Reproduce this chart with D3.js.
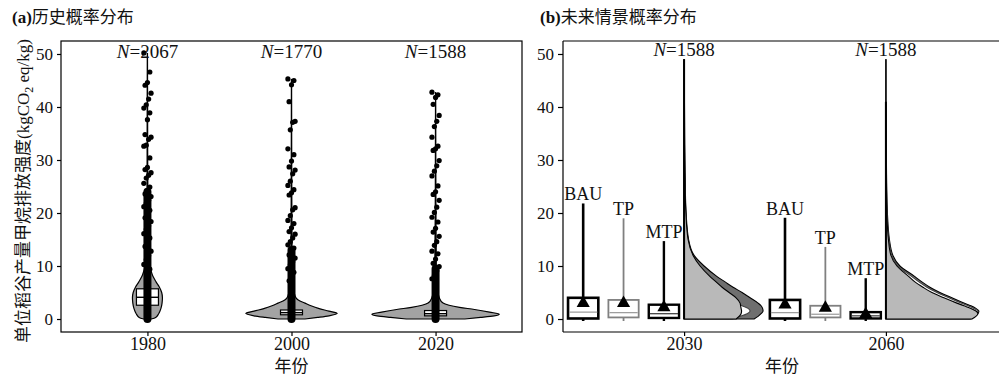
<!DOCTYPE html>
<html>
<head>
<meta charset="utf-8">
<script src="https://cdn.jsdelivr.net/npm/d3@7"></script>
<style>
  html, body { margin: 0; padding: 0; background: #fff; }
  svg { display: block; }
  text { fill: #111; }
</style>
</head>
<body>
<svg id="chart" width="999" height="378"></svg>
<script>
// ---- data ----
const yTicks = [0, 10, 20, 30, 40, 50];

// (a) historical
const histYears = ["1980", "2000", "2020"];
const histN = [2067, 1770, 1588];
const histQ1 = [2.6, 0.8, 0.6];
const histMed = [4.1, 1.2, 1.0];
const histQ3 = [5.7, 1.7, 1.6];
const histDenseTop = [24, 13, 9.5];

const vio1980Vals = [0, 0.3, 1, 2, 3, 4, 5, 6, 7, 8, 9, 10, 12, 15, 20, 25, 30, 40, 50.2];
const vio1980Dens = [0.05, 0.11, 0.15, 0.18, 0.195, 0.2, 0.19, 0.16, 0.115, 0.075, 0.05, 0.03, 0.02, 0.012, 0.008, 0.005, 0.003, 0.002, 0];
const vio2000Vals = [0, 0.3, 0.6, 1.07, 1.5, 2, 2.5, 3, 3.6, 4, 5, 7, 10, 20, 30, 45.3];
const vio2000Dens = [0.18, 0.35, 0.5, 0.61, 0.5, 0.36, 0.26, 0.18, 0.09, 0.06, 0.035, 0.018, 0.009, 0.004, 0.002, 0];
const vio2020Vals = [0, 0.3, 0.6, 0.9, 1.3, 1.8, 2.2, 2.6, 3, 4, 6, 10, 20, 30, 42.8];
const vio2020Dens = [0.39, 0.6, 0.78, 0.85, 0.72, 0.52, 0.32, 0.18, 0.1, 0.05, 0.02, 0.01, 0.004, 0.002, 0];

const pts1980 = [50.2, 46.6, 44.6, 44.1, 42.6, 41.5, 40.4, 39.8, 38.9, 37.6, 34.8, 34.3, 33.9, 32.8, 32.6, 30.4, 28.6, 28.2, 27.6, 27.1, 26.6, 25.6, 24.9, 24.2, 23.6, 23.1, 22.4, 21.8, 21.2, 20.5, 19.9, 19.1, 18.4, 17.6, 16.9, 16.1, 15.3, 14.4, 13.7, 12.8, 12.0, 11.2, 10.3, 9.4];
const pts2000 = [45.3, 45.0, 44.2, 41.0, 37.3, 37.1, 35.7, 32.1, 31.0, 29.8, 28.7, 28.1, 27.4, 26.0, 25.2, 24.4, 23.8, 23.4, 21.0, 20.6, 19.5, 18.6, 18.0, 17.2, 16.5, 16.0, 15.3, 14.6, 14.0, 13.4, 12.7, 12.1, 11.5, 10.8, 10.2, 9.5, 8.8, 8.0, 7.2];
const pts2020 = [42.8, 42.3, 41.8, 40.5, 38.4, 37.3, 36.3, 34.3, 32.6, 32.1, 31.8, 29.9, 28.9, 27.9, 27.0, 25.1, 24.0, 23.5, 22.4, 21.1, 20.1, 19.2, 18.3, 17.1, 16.4, 15.6, 14.6, 13.9, 12.8, 12.3, 11.3, 10.5, 9.9, 9.1, 8.2, 7.6];

// (b) scenarios
const futYears = ["2030", "2060"];
const futN = [1588, 1588];
const scenarios = ["BAU", "TP", "MTP"];
const futQ1 = [[0.1, 0.3, 0.2], [0.1, 0.3, 0.1]];
const futMed = [[1.3, 1.2, 1.0], [1.2, 0.9, 0.6]];
const futQ3 = [[4.0, 3.6, 2.7], [3.6, 2.5, 1.3]];
const futMin = [[0, 0, 0], [0, 0, 0]];
const futMax = [[21.8, 19.0, 14.7], [19.1, 13.6, 7.7]];
const futMean = [[3.0, 3.0, 2.2], [2.7, 2.1, 0.9]];

const halfVals = [0, 0.5, 1, 1.5, 2, 2.5, 3, 4, 5, 6, 7, 8, 10, 12, 15, 20, 25, 30, 40, 49];
const half2030 = {
  BAU: [0.70, 0.74, 0.77, 0.79, 0.785, 0.77, 0.74, 0.66, 0.58, 0.49, 0.41, 0.33, 0.20, 0.10, 0.045, 0.02, 0.012, 0.008, 0.004, 0],
  TP:  [0.48, 0.56, 0.63, 0.66, 0.64, 0.58, 0.53, 0.47, 0.41, 0.35, 0.29, 0.24, 0.15, 0.085, 0.038, 0.017, 0.009, 0.005, 0.002, 0],
  MTP: [0.52, 0.55, 0.57, 0.575, 0.57, 0.565, 0.56, 0.52, 0.45, 0.38, 0.32, 0.26, 0.16, 0.09, 0.04, 0.018, 0.01, 0.006, 0, 0]
};
const halfTop2030 = 49;
const half2060 = {
  BAU: [0.85, 0.89, 0.92, 0.93, 0.90, 0.85, 0.78, 0.66, 0.54, 0.44, 0.36, 0.29, 0.14, 0.07, 0.035, 0.015, 0.008, 0.005, 0, 0],
  TP:  [0.84, 0.88, 0.91, 0.92, 0.88, 0.82, 0.75, 0.63, 0.51, 0.41, 0.33, 0.26, 0.12, 0.06, 0.03, 0.012, 0.006, 0.003, 0, 0],
  MTP: [0.86, 0.90, 0.92, 0.90, 0.85, 0.78, 0.71, 0.58, 0.46, 0.37, 0.29, 0.23, 0.11, 0.05, 0.025, 0.01, 0.005, 0, 0, 0]
};
const halfTop2060 = 41;

// ---- styling ----
const serif = "'Liberation Serif', 'Noto Sans CJK SC', serif";
const cjk = "'Noto Sans CJK SC', sans-serif";
const scenStyle = {
  BAU: { stroke: "#000", width: 2.6, halfFill: "#6f6f6f" },
  TP:  { stroke: "#808080", width: 1.8, halfFill: "#ffffff" },
  MTP: { stroke: "#000", width: 2.4, halfFill: "#b9b9b9" }
};

const svg = d3.select("#chart");

// shared y
const plotTop = 41, plotBottom = 332;
const y = d3.scaleLinear().domain([-2.45, 52.45]).range([plotBottom, plotTop]);

// ============ panel (a) ============
const aL = 61, aR = 522;
const xa = d3.scalePoint().domain(histYears).range([aL, aR]).padding(0.6);
const wa = d3.scaleLinear().domain([0, 1]).range([0, 75]);

const gA = svg.append("g");

const vioData = [
  { vals: vio1980Vals, dens: vio1980Dens },
  { vals: vio2000Vals, dens: vio2000Dens },
  { vals: vio2020Vals, dens: vio2020Dens }
];
const ptsData = [pts1980, pts2000, pts2020];

histYears.forEach((yr, i) => {
  const cx = xa(yr);
  const rows = vioData[i].vals.map((v, k) => ({ v, d: vioData[i].dens[k] }));
  const area = d3.area()
    .y(d => y(d.v))
    .x0(d => cx - wa(d.d))
    .x1(d => cx + wa(d.d))
    .curve(d3.curveMonotoneY);
  gA.append("path").attr("d", area(rows))
    .attr("fill", "#a3a3a3").attr("stroke", "#000").attr("stroke-width", 1.2);

  // box
  const bw = 22;
  gA.append("rect")
    .attr("x", cx - bw / 2).attr("width", bw)
    .attr("y", y(histQ3[i])).attr("height", y(histQ1[i]) - y(histQ3[i]))
    .attr("fill", "#fff").attr("stroke", "#000").attr("stroke-width", 1.2);
  gA.append("line")
    .attr("x1", cx - bw / 2).attr("x2", cx + bw / 2)
    .attr("y1", y(histMed[i])).attr("y2", y(histMed[i]))
    .attr("stroke", "#000").attr("stroke-width", 1.4);

  // centre line of thin violin tail
  gA.append("line").attr("x1", cx).attr("x2", cx)
    .attr("y1", y(0)).attr("y2", y(d3.max(ptsData[i])))
    .attr("stroke", "#000").attr("stroke-width", 1.2);

  // dense column of points
  gA.append("line").attr("x1", cx).attr("x2", cx)
    .attr("y1", y(0)).attr("y2", y(histDenseTop[i]))
    .attr("stroke", "#000").attr("stroke-width", 8).attr("stroke-linecap", "round");

  gA.selectAll(null).data(ptsData[i]).enter().append("circle")
    .attr("cx", (d, k) => cx + ((k * 5) % 7 - 3) * 1.2)
    .attr("cy", d => y(d))
    .attr("r", 2.6)
    .attr("fill", "#000");

  const t = gA.append("text").attr("x", cx).attr("y", y(49.3))
    .attr("text-anchor", "middle").attr("font-family", serif).attr("font-size", 19);
  t.append("tspan").attr("font-style", "italic").text("N");
  t.append("tspan").text("=" + histN[i]);
});

// frame
gA.append("rect").attr("x", aL).attr("y", plotTop).attr("width", aR - aL).attr("height", plotBottom - plotTop)
  .attr("fill", "none").attr("stroke", "#000").attr("stroke-width", 1.2);

const axA = gA.append("g").attr("transform", `translate(${aL},0)`)
  .call(d3.axisLeft(y).tickValues(yTicks).tickSize(4).tickPadding(4));
const axAx = gA.append("g").attr("transform", `translate(0,${plotBottom})`)
  .call(d3.axisBottom(xa).tickSize(4).tickPadding(1));

// ============ panel (b) ============
const bL = 563, bR = 1007;
const xb = d3.scalePoint().domain(futYears).range([bL, bR]).padding(0.6);
const step = xb.step();
const offs = d3.scalePoint().domain(scenarios).range([-0.5, -0.1]);
const wb = d3.scaleLinear().domain([0, 1]).range([0, 100]);

const gB = svg.append("g");

const halfSets = [half2030, half2060];
const halfTops = [halfTop2030, halfTop2060];

futYears.forEach((yr, i) => {
  const cx = xb(yr);
  // half violins: BAU, TP, MTP stacked
  scenarios.forEach(s => {
    const rows = halfVals.map((v, k) => ({ v, d: halfSets[i][s][k] }));
    const area = d3.area()
      .y(d => y(d.v))
      .x0(cx)
      .x1(d => cx + wb(d.d))
      .curve(d3.curveMonotoneY);
    gB.append("path").attr("d", area(rows))
      .attr("fill", scenStyle[s].halfFill)
      .attr("stroke", s === "TP" ? "#444" : "#000")
      .attr("stroke-width", 1.1);
  });
  gB.append("line").attr("x1", cx).attr("x2", cx)
    .attr("y1", y(0)).attr("y2", y(halfTops[i]))
    .attr("stroke", "#000").attr("stroke-width", 2);

  // boxplots
  scenarios.forEach((s, j) => {
    const bx = cx + offs(s) * step;
    const bw = 0.15 * step;
    const st = scenStyle[s];
    gB.append("line").attr("x1", bx).attr("x2", bx)
      .attr("y1", y(futQ3[i][j])).attr("y2", y(futMax[i][j]))
      .attr("stroke", st.stroke).attr("stroke-width", st.width);
    gB.append("line").attr("x1", bx).attr("x2", bx)
      .attr("y1", y(futQ1[i][j])).attr("y2", y(futMin[i][j]) + 2)
      .attr("stroke", st.stroke).attr("stroke-width", st.width);
    gB.append("rect")
      .attr("x", bx - bw / 2).attr("width", bw)
      .attr("y", y(futQ3[i][j])).attr("height", y(futQ1[i][j]) - y(futQ3[i][j]))
      .attr("fill", "#fff").attr("stroke", st.stroke).attr("stroke-width", st.width);
    gB.append("line")
      .attr("x1", bx - bw / 2 + 1).attr("x2", bx + bw / 2 - 1)
      .attr("y1", y(futMed[i][j])).attr("y2", y(futMed[i][j]))
      .attr("stroke", s === "MTP" ? "#333" : "#999").attr("stroke-width", 1.2);
    gB.append("path")
      .attr("d", d3.symbol(d3.symbolTriangle, 75)())
      .attr("transform", `translate(${bx},${y(futMean[i][j])})`)
      .attr("fill", "#000");
    gB.append("text").attr("x", bx).attr("y", y(futMax[i][j]) - 3)
      .attr("text-anchor", "middle").attr("font-family", serif).attr("font-size", 18)
      .text(s);
  });

  const t = gB.append("text").attr("x", cx).attr("y", y(49.7))
    .attr("text-anchor", "middle").attr("font-family", serif).attr("font-size", 19);
  t.append("tspan").attr("font-style", "italic").text("N");
  t.append("tspan").text("=" + futN[i]);
});

gB.append("line").attr("x1", bL).attr("x2", bR).attr("y1", plotTop).attr("y2", plotTop)
  .attr("stroke", "#555").attr("stroke-width", 1.6);
gB.append("line").attr("x1", bL).attr("x2", bL).attr("y1", plotTop).attr("y2", plotBottom)
  .attr("stroke", "#000").attr("stroke-width", 1.2);
gB.append("line").attr("x1", bL).attr("x2", bR).attr("y1", plotBottom).attr("y2", plotBottom)
  .attr("stroke", "#000").attr("stroke-width", 1.2);

const axB = gB.append("g").attr("transform", `translate(${bL},0)`)
  .call(d3.axisLeft(y).tickValues(yTicks).tickSize(5).tickPadding(4));
const axBx = gB.append("g").attr("transform", `translate(0,${plotBottom})`)
  .call(d3.axisBottom(xb).tickSize(4).tickPadding(1));

// axis styling
[axA, axB].forEach(a => {
  a.select(".domain").remove();
  a.selectAll("text").attr("font-family", serif).attr("font-size", 17).attr("fill", "#111");
  a.selectAll("line").attr("stroke", "#000").attr("stroke-width", 1.2);
});
[axAx, axBx].forEach(a => {
  a.select(".domain").remove();
  a.selectAll("text").attr("font-family", serif).attr("font-size", 18).attr("fill", "#111");
  a.selectAll("line").attr("stroke", "#000").attr("stroke-width", 1.2);
});

// titles
function panelTitle(x, tag, txt) {
  const t = svg.append("text").attr("x", x).attr("y", 23).attr("font-size", 17);
  t.append("tspan").attr("font-family", serif).attr("font-weight", "bold").attr("font-size", 17).text(tag);
  t.append("tspan").attr("font-family", cjk).text(txt);
}
panelTitle(12, "(a)", "历史概率分布");
panelTitle(540, "(b)", "未来情景概率分布");

// axis titles
[xa, xb].forEach((sc, i) => {
  const r = sc.range();
  svg.append("text").attr("x", (r[0] + r[1]) / 2 - (i === 1 ? 3 : 0)).attr("y", 372)
    .attr("text-anchor", "middle").attr("font-family", cjk).attr("font-size", 17)
    .text("年份");
});

const yl = svg.append("text")
  .attr("transform", "translate(29,191) rotate(-90)")
  .attr("text-anchor", "middle").attr("font-family", serif).attr("font-size", 17);
yl.append("tspan").attr("font-family", cjk).text("单位稻谷产量甲烷排放强度");
yl.append("tspan").text("(kgCO");
yl.append("tspan").attr("font-size", 12).attr("dy", 4).text("2");
yl.append("tspan").attr("dy", -4).text(" eq/kg)");
</script>
</body>
</html>
